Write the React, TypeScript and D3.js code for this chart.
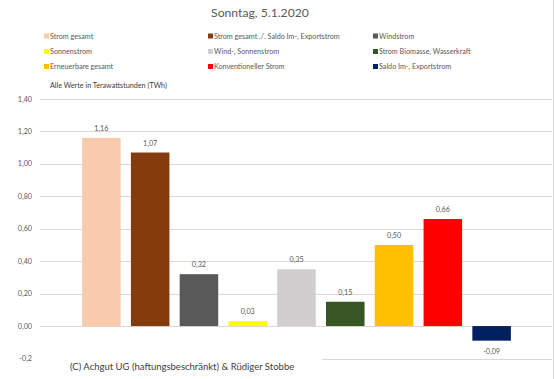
import React from "react";
import * as d3 from "d3";

const categories = [
  "Strom gesamt",
  "Strom gesamt ./. Saldo Im-, Exportstrom",
  "Windstrom",
  "Sonnenstrom",
  "Wind-, Sonnenstrom",
  "Strom Biomasse, Wasserkraft",
  "Erneuerbare gesamt",
  "Konventioneller Strom",
  "Saldo Im-, Exportstrom",
];
const values = [1.16, 1.07, 0.32, 0.03, 0.35, 0.15, 0.5, 0.66, -0.09];
const colors = [
  "#f8cbad",
  "#843c0c",
  "#595959",
  "#ffff00",
  "#d0cece",
  "#375623",
  "#ffc000",
  "#ff0000",
  "#002060",
];
const yTicks = [-0.2, 0, 0.2, 0.4, 0.6, 0.8, 1.0, 1.2, 1.4];

const W = 555;
const H = 379;
const FONT = "Lato, 'Liberation Sans', sans-serif";

const fmt = (v: number) => v.toFixed(2).replace(".", ",");
const tickFmt = (v: number) => (v === -0.2 ? "-0,2" : fmt(v));

export default function App() {
  const x = d3
    .scaleBand<string>()
    .domain(categories)
    .range([77, 516])
    .paddingInner(0.21)
    .paddingOuter(0.105);
  const y = d3.scaleLinear().domain([-0.2, 1.4]).range([358.5, 99]);

  const legendCols = [44, 208, 373];
  const legendRows = [36, 51.5, 66.5];

  return (
    <svg
      width={W}
      height={H}
      style={{ position: "absolute", left: 0, top: 0, background: "#fff" }}
      fontFamily={FONT}
    >
      <rect x={0} y={0} width={W} height={H} fill="#fff" />
      <line x1={553.5} x2={553.5} y1={0} y2={H} stroke="#d9d9d9" strokeWidth={1} />
      <text x={260} y={17} textAnchor="middle" fontSize={12.2} fill="#595959">
        Sonntag, 5.1.2020
      </text>

      {categories.map((c, i) => {
        const col = i % 3;
        const row = Math.floor(i / 3);
        return (
          <g key={c}>
            <rect
              x={legendCols[col]}
              y={legendRows[row] - 2.5}
              width={5}
              height={5}
              fill={colors[i]}
            />
            <text
              x={legendCols[col] + 6}
              y={legendRows[row] + 2.5}
              fontSize={7.2}
              fill="#595959"
            >
              {c}
            </text>
          </g>
        );
      })}

      <text x={50} y={88} fontSize={7.2} fill="#404040">
        Alle Werte in Terawattstunden (TWh)
      </text>

      {yTicks.map((t) => (
        <g key={t}>
          <line
            x1={40}
            x2={552}
            y1={Math.round(y(t)) + 0.5}
            y2={Math.round(y(t)) + 0.5}
            stroke="#d9d9d9"
            strokeWidth={1}
          />
          <text
            x={32}
            y={y(t) + 2.5}
            textAnchor="end"
            fontSize={7.2}
            fill="#595959"
          >
            {tickFmt(t)}
          </text>
        </g>
      ))}

      {categories.map((c, i) => {
        const v = values[i];
        const y0 = y(0);
        const y1 = y(v);
        const bx = x(c)!;
        const bw = x.bandwidth();
        return (
          <g key={"b" + c}>
            <rect
              x={bx}
              y={Math.min(y0, y1)}
              width={bw}
              height={Math.abs(y1 - y0)}
              fill={colors[i]}
            />
            <text
              x={bx + bw / 2}
              y={v >= 0 ? y1 - 7 : y1 + 13}
              textAnchor="middle"
              fontSize={7.2}
              fill="#595959"
            >
              {fmt(v)}
            </text>
          </g>
        );
      })}

      <rect x={40} y={352} width={282} height={22} fill="#fff" />
      <text x={70} y={370} fontSize={9.5} fill="#404040">
        (C) Achgut UG (haftungsbeschränkt) &amp; Rüdiger Stobbe
      </text>
    </svg>
  );
}
